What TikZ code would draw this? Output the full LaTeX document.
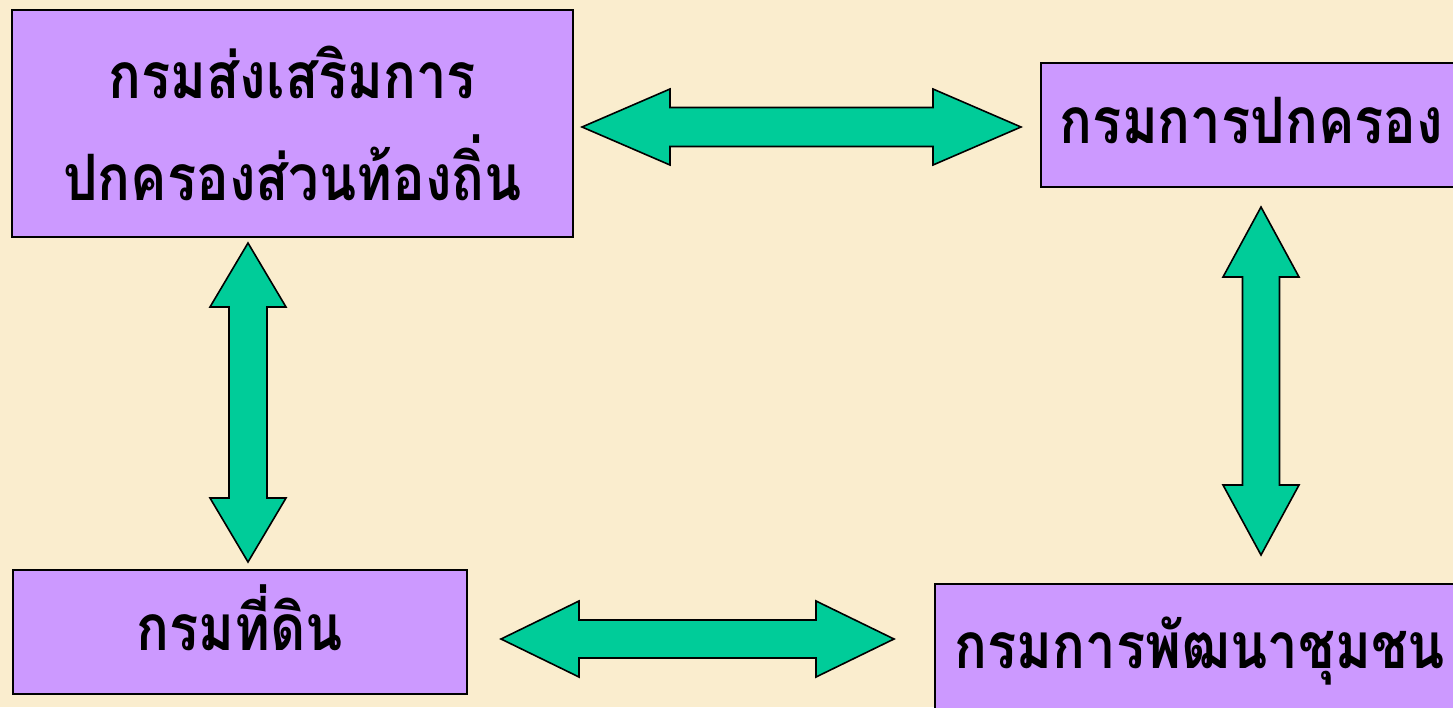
\documentclass[tikz,border=0pt]{standalone}
\usepackage{fontspec}
\newfontfamily\thaifont[Script=Thai, FakeStretch=0.85]{Loma}
\definecolor{bgcol}{RGB}{250,237,206}
\definecolor{boxpurple}{RGB}{204,153,255}
\definecolor{arrowgreen}{RGB}{0,204,153}
\tikzset{
  deptbox/.style={draw=black, line width=1.8pt, fill=boxpurple, inner sep=0pt,
    font=\thaifont\bfseries\fontsize{64}{102}\selectfont},
  oneline/.style={text height=36pt, text depth=0pt},
  blockarrow/.style={draw=black, line width=1.6pt, fill=arrowgreen, line join=miter}
}
% horizontal double arrow: center x, center y, half length, head length, head half-width, shaft half-width
\newcommand\harrowblk[6]{%
  \draw[blockarrow] ({#1-#3},#2) -- ({#1-#3+#4},{#2-#5}) -- ({#1-#3+#4},{#2-#6})
    -- ({#1+#3-#4},{#2-#6}) -- ({#1+#3-#4},{#2-#5}) -- ({#1+#3},#2)
    -- ({#1+#3-#4},{#2+#5}) -- ({#1+#3-#4},{#2+#6}) -- ({#1-#3+#4},{#2+#6})
    -- ({#1-#3+#4},{#2+#5}) -- cycle;}
\newcommand\varrowblk[6]{%
  \draw[blockarrow] (#1,{#2-#3}) -- ({#1-#5},{#2-#3+#4}) -- ({#1-#6},{#2-#3+#4})
    -- ({#1-#6},{#2+#3-#4}) -- ({#1-#5},{#2+#3-#4}) -- (#1,{#2+#3})
    -- ({#1+#5},{#2+#3-#4}) -- ({#1+#6},{#2+#3-#4}) -- ({#1+#6},{#2-#3+#4})
    -- ({#1+#5},{#2-#3+#4}) -- cycle;}
\begin{document}
\begin{tikzpicture}[x=1pt,y=-1pt]
\useasboundingbox (0,0) rectangle (1453,707);
\fill[bgcol] (0,0) rectangle (1453,707);
\clip (0,0) rectangle (1453,707);
% boxes
\node[deptbox, align=center, minimum width=561pt, minimum height=227pt] (local) at (292.5,123.5)
  {กรมส่งเสริมการ\\ปกครองส่วนท้องถิ่น};
\node[deptbox, oneline, minimum width=421pt, minimum height=124pt] (dopa) at (1251.5,125)
  {กรมการปกครอง};
\node[deptbox, oneline, minimum width=454pt, minimum height=124pt] (land) at (240,632)
  {กรมที่ดิน};
\node[deptbox, oneline, minimum width=530pt, minimum height=132pt] (cdd) at (1200,650)
  {กรมการพัฒนาชุมชน};
% arrows
\harrowblk{801.5}{127}{219.5}{88}{38}{19.5}
\harrowblk{697.5}{639}{196.5}{78}{38}{19}
\varrowblk{248}{402.5}{159.5}{64}{38}{19}
\varrowblk{1261}{381}{174}{70}{38}{18.5}
\end{tikzpicture}
\end{document}
